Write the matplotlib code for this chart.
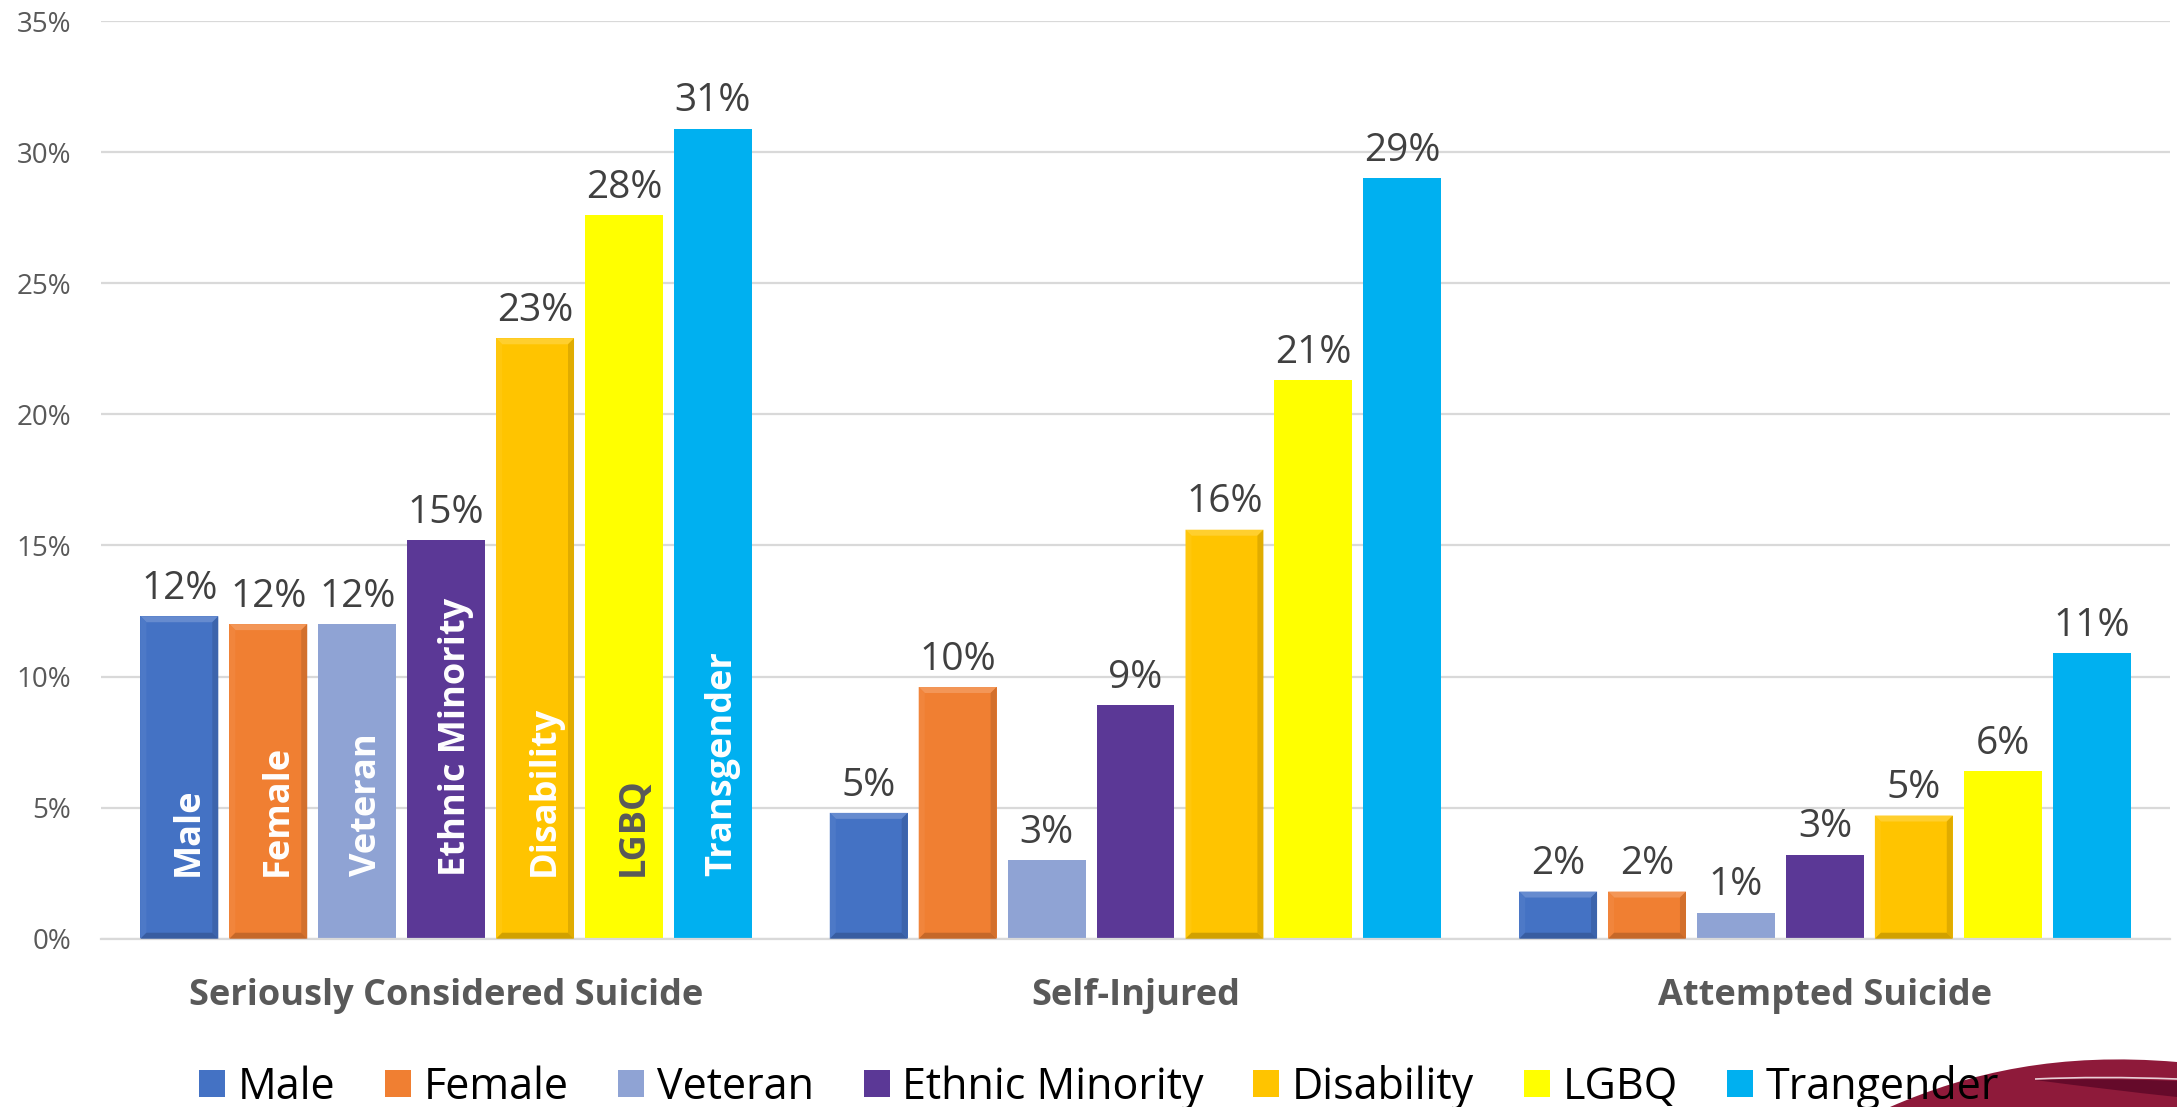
import numpy as np
import matplotlib.pyplot as plt
from matplotlib.patches import Patch, Polygon, PathPatch
from matplotlib.path import Path
from matplotlib.colors import to_rgb

plt.rcParams['font.family'] = ['Open Sans', 'DejaVu Sans']

# Datos
grupos = ['Seriously Considered Suicide', 'Self-Injured', 'Attempted Suicide']
series = ['Male', 'Female', 'Veteran', 'Ethnic Minority', 'Disability', 'LGBQ', 'Transgender']
leyenda = ['Male', 'Female', 'Veteran', 'Ethnic Minority', 'Disability', 'LGBQ', 'Trangender']

considered = [12.3, 12.0, 12.0, 15.2, 22.9, 27.6, 30.9]
self_injured = [4.8, 9.6, 3.0, 8.9, 15.6, 21.3, 29.0]
attempted = [1.8, 1.8, 1.0, 3.2, 4.7, 6.4, 10.9]

colores = ['#4472C4', '#F07F32', '#8FA3D4', '#5B3896', '#FFC400', '#FFFF00', '#00B0F0']
con_bisel = [True, True, False, False, True, False, False]
color_texto_barra = ['white', 'white', 'white', 'white', 'white', '#595959', 'white']

W, H = 2177, 1107


def mezcla(color, otro, t):
    c = np.array(to_rgb(color))
    o = np.array(to_rgb(otro))
    return tuple(c * (1 - t) + o * t)


def bisel(ax, barra, color, px=6):
    # Bordes inclinados tipo "bevel" sobre la barra
    x0, y0 = barra.get_x(), barra.get_y()
    x1, y1 = x0 + barra.get_width(), y0 + barra.get_height()
    ax_x0, ax_y0 = ax.transData.transform((x0, y0))
    inv = ax.transData.inverted()
    dx = inv.transform((ax_x0 + px, ax_y0))[0] - x0
    dy = inv.transform((ax_x0, ax_y0 + px))[1] - y0
    caras = [
        ([(x0, y1), (x1, y1), (x1 - dx, y1 - dy), (x0 + dx, y1 - dy)], mezcla(color, 'white', 0.18)),
        ([(x0, y0), (x0, y1), (x0 + dx, y1 - dy), (x0 + dx, y0 + dy)], mezcla(color, 'white', 0.05)),
        ([(x1, y0), (x1, y1), (x1 - dx, y1 - dy), (x1 - dx, y0 + dy)], mezcla(color, 'black', 0.12)),
        ([(x0, y0), (x1, y0), (x1 - dx, y0 + dy), (x0 + dx, y0 + dy)], mezcla(color, 'black', 0.18)),
    ]
    for pts, c in caras:
        ax.add_patch(Polygon(pts, closed=True, facecolor=c, edgecolor='none', zorder=3))


fig = plt.figure(figsize=(W / 100, H / 100), dpi=100)
ax = fig.add_axes([0.0466, 0.152, 0.950, 0.829])

valores = np.array([considered, self_injured, attempted])
x = np.arange(len(grupos))
paso = 0.129
ancho = 0.113

ax.set_xlim(-0.5, 2.5)
ax.set_ylim(0, 35)

handles = []
for i, nombre in enumerate(series):
    pos = x + (i - 3) * paso
    barras = ax.bar(pos, valores[:, i], ancho, color=colores[i], zorder=2)
    if con_bisel[i]:
        for b in barras:
            bisel(ax, b, colores[i])
    for xb, v in zip(pos, valores[:, i]):
        ax.annotate(f'{v:.0f}%', (xb, v), xytext=(0, 6), textcoords='offset points',
                    ha='center', va='bottom', fontsize=28, color='#404040')
    # nombre de la serie dentro de la primera barra
    ax.text(pos[0] + 0.014, 2.4, nombre, rotation=90, ha='center', va='bottom',
            fontsize=26, fontweight='bold', color=color_texto_barra[i], zorder=4)
    handles.append(Patch(facecolor=colores[i], edgecolor='none', label=leyenda[i]))

ax.set_yticks(np.arange(0, 36, 5))
ax.set_yticklabels([f'{v}%' for v in range(0, 36, 5)])
ax.set_xticks(x)
ax.set_xticklabels(grupos, fontsize=26, fontweight='bold', color='#595959')
ax.tick_params(axis='y', length=0, pad=22, labelsize=20, labelcolor='#595959')
ax.tick_params(axis='x', length=0, pad=28)
ax.grid(axis='y', color='#d9d9d9', linewidth=1.6)
ax.set_axisbelow(True)
for s in ['top', 'right', 'left']:
    ax.spines[s].set_visible(False)
ax.spines['bottom'].set_color('#d9d9d9')
ax.spines['bottom'].set_linewidth(1.6)


def fpt(px, py):
    return (px / W, 1 - py / H)


# Curva decorativa en la esquina inferior derecha
ruta = Path([fpt(1890, 1107), fpt(1970, 1072), fpt(2060, 1052), fpt(2177, 1062),
             fpt(2177, 1107), fpt(1890, 1107)],
            [Path.MOVETO, Path.CURVE4, Path.CURVE4, Path.CURVE4, Path.LINETO, Path.CLOSEPOLY])
fig.add_artist(PathPatch(ruta, transform=fig.transFigure, facecolor='#8E1A3A',
                         edgecolor='none', zorder=1))
ruta2 = Path([fpt(2035, 1080), fpt(2100, 1078), fpt(2177, 1081),
              fpt(2177, 1097), fpt(2110, 1090), fpt(2035, 1080)],
             [Path.MOVETO, Path.CURVE3, Path.CURVE3, Path.LINETO, Path.CURVE3, Path.CURVE3])
fig.add_artist(PathPatch(ruta2, transform=fig.transFigure, facecolor='#650A2A',
                         edgecolor='none', zorder=1))
ruta3 = Path([fpt(2035, 1079), fpt(2100, 1076), fpt(2177, 1079)],
             [Path.MOVETO, Path.CURVE3, Path.CURVE3])
fig.add_artist(PathPatch(ruta3, transform=fig.transFigure, facecolor='none',
                         edgecolor='#e9cfd6', linewidth=1.2, zorder=1))

fig.legend(handles=handles, loc='center', bbox_to_anchor=(0.505, 0.018), ncol=7,
           frameon=False, fontsize=31, handlelength=0.6, handleheight=0.6,
           handletextpad=0.3, columnspacing=1.15)

fig.savefig('out.png', dpi=100)
